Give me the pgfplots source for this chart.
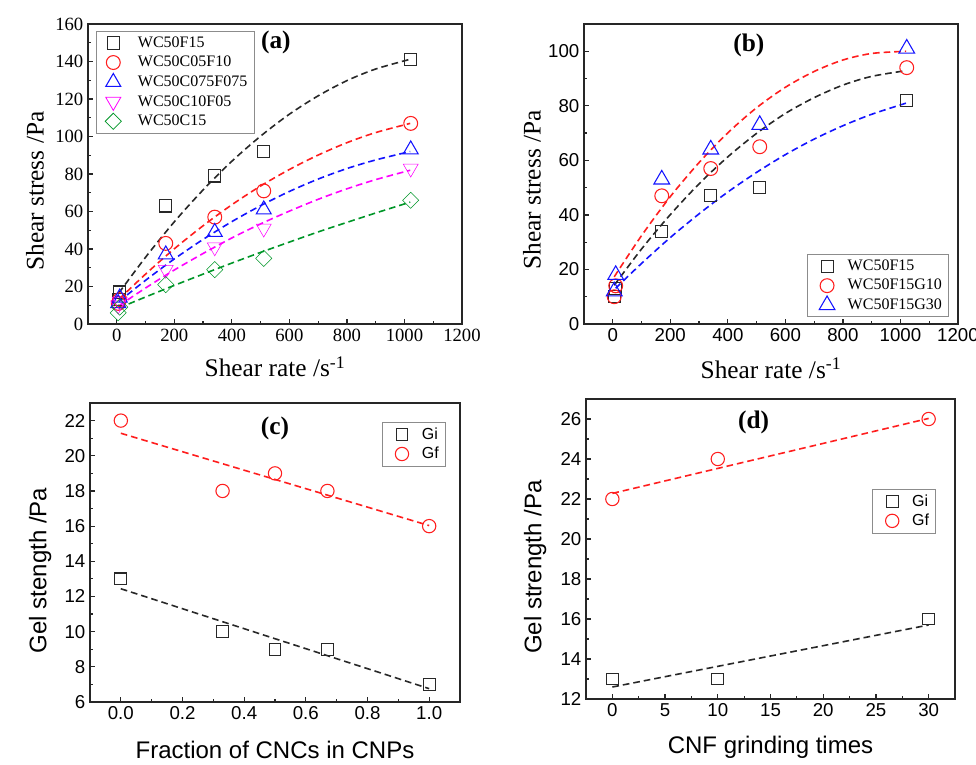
\documentclass[border=0pt]{standalone}
\usepackage{pgfplots}
\pgfplotsset{compat=1.18}
\usepackage{fontspec}
\setmainfont{Liberation Serif}
\newfontfamily\arialf{Liberation Sans}
\definecolor{mk}{RGB}{40,40,40}
\definecolor{mgreen}{RGB}{0,150,40}
\definecolor{mred}{RGB}{255,30,30}
\definecolor{mblue}{RGB}{20,20,255}
\definecolor{mmag}{RGB}{255,0,255}
\pgfplotsset{/pgf/number format/assume math mode=true, /pgf/number format/1000 sep={}}
\pgfplotsset{
  common/.style={
    scale only axis, anchor=north west,
    axis line style={line width=1.1pt, black!85},
    xtick pos=bottom, ytick pos=left, tick align=inside,
    major tick length=4pt, minor tick length=2.5pt,
    every tick/.style={line width=0.9pt, black!85},
    legend cell align=left,
    legend style={draw=black!45, line width=0.6pt, fill=white, inner xsep=3pt, inner ysep=2pt},
  },
  limg/.style 2 args={legend image code/.code={\draw[draw=none] (0pt,0pt) -- (#2,0pt); \draw[##1] plot coordinates {(#1,0pt)};}},
  fit/.style={line width=1.2pt, dash pattern=on 5pt off 3pt, smooth, no marks, forget plot},
  mkstyle/.style={only marks, mark options={line width=0.8pt, solid}},
}
\begin{document}
\begin{tikzpicture}
\path[use as bounding box] (0,0) rectangle (732pt,-573.75pt);
% ---------------- (a)
\begin{axis}[common, at={(66pt,-18pt)}, width=280.5pt, height=225pt,
  xmin=-100, xmax=1200, ymin=0, ymax=160,
  xtick={0,200,...,1200}, ytick={0,20,...,160},
  minor x tick num=1, minor y tick num=1,
  tick label style={font=\fontsize{14}{16}\selectfont},
  label style={font=\fontsize{19}{22}\selectfont},
  xlabel={Shear rate /s\textsuperscript{-1}}, ylabel={Shear stress /Pa},
  xlabel style={at={(axis description cs:0.5,-0.143)}, anchor=center},
  ylabel style={at={(axis description cs:-0.142,0.443)}, anchor=center},
  legend style={at={(0.022,0.977)}, anchor=north west, font=\fontsize{12}{14}\selectfont, row sep=1.2pt},
  mkstyle/.append style={limg={9.5pt}{26pt}},
]
\addplot[mkstyle, mk, mark=square, mark size=4.6pt] coordinates {(5.1,13)(10.2,17)(170.3,63)(340.6,79)(510.9,92)(1021.8,141)};
\addlegendentry{WC50F15}
\addplot[mkstyle, mred, mark=o, mark size=5.2pt] coordinates {(5.1,11)(10.2,13)(170.3,43)(340.6,57)(510.9,71)(1021.8,107)};
\addlegendentry{WC50C05F10}
\addplot[mkstyle, mblue, mark=triangle, mark size=6.5pt] coordinates {(5.1,11)(10.2,14)(170.3,37)(340.6,49)(510.9,61)(1021.8,93)};
\addlegendentry{WC50C075F075}
\addplot[mkstyle, mmag, mark=triangle, mark size=6.5pt, mark options={rotate=180}] coordinates {(5.1,10)(10.2,12)(170.3,29)(340.6,41)(510.9,51)(1021.8,83)};
\addlegendentry{WC50C10F05}
\addplot[mkstyle, mgreen, mark=square, mark size=4.3pt, mark options={rotate=45}] coordinates {(5.1,6)(10.2,9)(170.3,21)(340.6,29)(510.9,35)(1021.8,66)};
\addlegendentry{WC50C15}
\addplot[fit, mk] coordinates {(7,16.5)(100,35.6)(200,54.5)(300,71.5)(400,86.8)(500,100.2)(600,111.9)(700,121.7)(800,129.8)(900,136.0)(1020,141.2)};
\addplot[fit, mred] coordinates {(7,13.1)(100,26.6)(200,40.1)(300,52.4)(400,63.6)(500,73.6)(600,82.4)(700,90.1)(800,96.7)(900,102.1)(1020,107)};
\addplot[fit, mblue] coordinates {(7,11.9)(100,23.3)(200,34.7)(300,45.1)(400,54.6)(500,63.1)(600,70.7)(700,77.3)(800,82.9)(900,87.5)(1020,92)};
\addplot[fit, mmag] coordinates {(7,9.7)(100,19.2)(200,28.8)(300,37.6)(400,45.9)(500,53.4)(600,60.2)(700,66.5)(800,72.1)(900,77)(1020,82)};
\addplot[fit, mgreen] coordinates {(7,8.5)(100,14.4)(200,20.6)(300,26.6)(400,32.5)(500,38.2)(600,43.7)(700,49.1)(800,54.2)(900,59.2)(1020,65)};
\node[font=\bfseries\fontsize{19}{22}\selectfont] at (axis cs:553,150) {(a)};
\end{axis}
% ---------------- (b)
\begin{axis}[common, at={(438pt,-18pt)}, width=280.5pt, height=225pt,
  xmin=-100, xmax=1200, ymin=0, ymax=110,
  xtick={0,200,...,1200}, ytick={0,20,...,100},
  minor x tick num=1, minor y tick num=1,
  tick label style={font=\arialf\fontsize{14}{16}\selectfont},
  label style={font=\fontsize{19}{22}\selectfont},
  xlabel={Shear rate /s\textsuperscript{-1}}, ylabel={Shear stress /Pa},
  xlabel style={at={(axis description cs:0.5,-0.147)}, anchor=center},
  ylabel style={at={(axis description cs:-0.139,0.447)}, anchor=center},
  legend style={at={(0.976,0.023)}, anchor=south east, font=\fontsize{12}{14}\selectfont, row sep=1pt},
  mkstyle/.append style={limg={11.5pt}{25pt}},
]
\addplot[mkstyle, mk, mark=square, mark size=4.5pt] coordinates {(5.1,10)(10.2,13)(170.3,34)(340.6,47)(510.9,50)(1021.8,82)};
\addlegendentry{WC50F15}
\addplot[mkstyle, mred, mark=o, mark size=5.2pt] coordinates {(5.1,10)(10.2,14)(170.3,47)(340.6,57)(510.9,65)(1021.8,94)};
\addlegendentry{WC50F15G10}
\addplot[mkstyle, mblue, mark=triangle, mark size=6.8pt] coordinates {(5.1,12)(10.2,18)(170.3,53)(340.6,64)(510.9,73)(1021.8,101)};
\addlegendentry{WC50F15G30}
\addplot[fit, mred] coordinates {(5,17.3)(100,32.4)(200,46.7)(300,59.2)(400,70.1)(500,79.3)(600,86.8)(700,92.6)(800,96.8)(900,99.2)(1020,100.0)};
\addplot[fit, mk] coordinates {(5,14.2)(100,27.5)(200,40.1)(300,51.4)(400,61.3)(500,69.9)(600,77.2)(700,83)(800,87.6)(900,90.8)(1020,92.9)};
\addplot[fit, mblue] coordinates {(10,13.1)(100,22.2)(200,31.7)(300,40.4)(400,48.4)(500,55.6)(600,62.1)(700,67.8)(800,72.7)(900,76.9)(1020,81)};
\node[font=\bfseries\fontsize{19}{22}\selectfont] at (axis cs:473,102) {(b)};
\end{axis}
% ---------------- (c)
\begin{axis}[common, at={(67.5pt,-302.25pt)}, width=277.5pt, height=224.25pt,
  xmin=-0.1, xmax=1.1, ymin=6, ymax=23,
  xtick={0,0.2,0.4,0.6,0.8,1}, ytick={6,8,...,22},
  minor x tick num=1, minor y tick num=1,
  xticklabel style={/pgf/number format/.cd, fixed, fixed zerofill, precision=1},
  tick label style={font=\arialf\fontsize{14}{16}\selectfont},
  label style={font=\arialf\fontsize{18}{21}\selectfont},
  xlabel={Fraction of CNCs in CNPs}, ylabel={Gel stength /Pa},
  xlabel style={at={(axis description cs:0.5,-0.16)}, anchor=center},
  ylabel style={at={(axis description cs:-0.135,0.44)}, anchor=center},
  legend style={at={(0.962,0.936)}, anchor=north east, font=\arialf\fontsize{12}{14}\selectfont, row sep=0.3pt},
  mkstyle/.append style={limg={12pt}{25pt}},
]
\addplot[mkstyle, mk, mark=square, mark size=4.4pt] coordinates {(0,13)(0.33,10)(0.5,9)(0.67,9)(1,7)};
\addlegendentry{Gi}
\addplot[mkstyle, mred, mark=o, mark size=5pt] coordinates {(0,22)(0.33,18)(0.5,19)(0.67,18)(1,16)};
\addlegendentry{Gf}
\addplot[fit, mred] coordinates {(0,21.28)(1,16.03)};
\addplot[fit, mk] coordinates {(0,12.44)(1,6.76)};
\node[font=\bfseries\fontsize{19}{22}\selectfont] at (axis cs:0.5,21.55) {(c)};
\end{axis}
% ---------------- (d)
\begin{axis}[common, at={(439.5pt,-299.25pt)}, width=276.75pt, height=225pt,
  xmin=-2.5, xmax=32.5, ymin=12, ymax=27,
  xtick={0,5,...,30}, ytick={12,14,...,26},
  minor x tick num=1, minor y tick num=1,
  tick label style={font=\arialf\fontsize{14}{16}\selectfont},
  label style={font=\arialf\fontsize{18}{21}\selectfont},
  xlabel={CNF grinding times}, ylabel={Gel strength /Pa},
  xlabel style={at={(axis description cs:0.5,-0.16)}, anchor=center},
  ylabel style={at={(axis description cs:-0.138,0.44)}, anchor=center},
  legend style={at={(0.949,0.70)}, anchor=north east, font=\arialf\fontsize{12}{14}\selectfont, row sep=0.3pt},
  mkstyle/.append style={limg={12pt}{25pt}},
]
\addplot[mkstyle, mk, mark=square, mark size=4.4pt] coordinates {(0,13)(10,13)(30,16)};
\addlegendentry{Gi}
\addplot[mkstyle, mred, mark=o, mark size=5pt] coordinates {(0,22)(10,24)(30,26)};
\addlegendentry{Gf}
\addplot[fit, mred] coordinates {(0,22.28)(30,26.03)};
\addplot[fit, mk] coordinates {(0,12.6)(30,15.7)};
\node[font=\bfseries\fontsize{19}{22}\selectfont] at (axis cs:13.4,25.85) {(d)};
\end{axis}
\end{tikzpicture}
\end{document}
